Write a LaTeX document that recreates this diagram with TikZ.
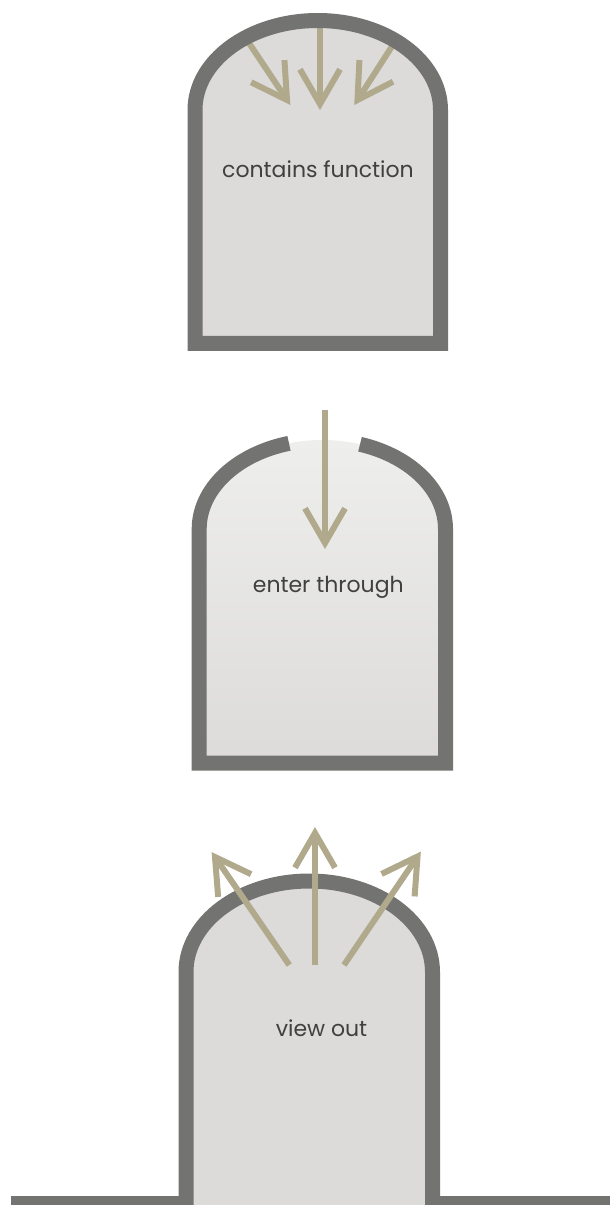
\documentclass[tikz,border=0pt]{standalone}
\usepackage{fontspec}
\setmainfont{Poppins}
\usetikzlibrary{calc}
\definecolor{wallc}{HTML}{737372}
\definecolor{roomc}{HTML}{DCDBDA}
\definecolor{roomtop}{HTML}{EEEEED}
\definecolor{arrowc}{HTML}{B0A98B}
\definecolor{textc}{HTML}{404040}
\tikzset{
  wall/.style={draw=wallc, line width=15pt, line join=miter, line cap=butt},
  room/.style={fill=roomc, draw=none},
  ray/.style={draw=arrowc, line width=6pt, line join=miter, line cap=butt},
  label/.style={text=textc, font=\fontsize{22}{26}\selectfont, anchor=base, inner sep=0pt},
}
\newcommand{\chevray}[2]{%
  \draw[ray] (#1) -- (#2);
  \draw[ray] ($(#2)!40pt!30:(#1)$) -- (#2) -- ($(#2)!40pt!-30:(#1)$);
}
\begin{document}
\begin{tikzpicture}[x=1pt,y=-1pt]
\useasboundingbox (0,0) rectangle (610,1205);
% ---------- room 1: contains function
\coordinate (c1) at (317.75,110);
\fill[room] (195,343.3) -- (195,110) arc[start angle=180,end angle=0,x radius=122.75pt,y radius=89.5pt] -- (440.5,343.3) -- cycle;
\coordinate (a1s) at (245,37);  \coordinate (a1t) at (287,100);
\coordinate (a2s) at (320,18);  \coordinate (a2t) at (320,104);
\coordinate (a3s) at (398,37);  \coordinate (a3t) at (357.5,100);
\chevray{a1s}{a1t}
\chevray{a2s}{a2t}
\chevray{a3s}{a3t}
\draw[wall] (195,343.3) -- (195,110) arc[start angle=180,end angle=0,x radius=122.75pt,y radius=89.5pt] -- (440.5,343.3) -- cycle;
\node[label] (t1) at (318,177) {contains function};
% ---------- room 2: enter through
\coordinate (c2) at (322.3,529);
\shade[top color=roomtop, bottom color=roomc] (199.2,763) -- (199.2,529) arc[start angle=180,end angle=0,x radius=123.1pt,y radius=89pt] -- (445.5,763) -- cycle;
\draw[wall] ($(c2)+(105.7:123.1pt and 89pt)$) arc[start angle=105.7,end angle=180,x radius=123.1pt,y radius=89pt] -- (199.2,763) -- (445.5,763) -- (445.5,529) arc[start angle=0,end angle=72.2,x radius=123.1pt,y radius=89pt];
\coordinate (b1s) at (325,410); \coordinate (b1t) at (325,543);
\chevray{b1s}{b1t}
\node[label] (t2) at (328.3,592.3) {enter through};
% ---------- room 3: view out
\coordinate (c3) at (309.25,972);
\fill[room] (186,1205) -- (186,972) arc[start angle=180,end angle=0,x radius=123.25pt,y radius=91pt] -- (432.5,1205) -- cycle;
\draw[wall] (11,1203.5) -- (186,1203.5) -- (186,972) arc[start angle=180,end angle=0,x radius=123.25pt,y radius=91pt] -- (432.5,1203.5) -- (615,1203.5);
\coordinate (d1s) at (289.3,965); \coordinate (d1t) at (215,857);
\coordinate (d2s) at (315,965);   \coordinate (d2t) at (315,833);
\coordinate (d3s) at (344,965);   \coordinate (d3t) at (417.5,856.5);
\chevray{d1s}{d1t}
\chevray{d2s}{d2t}
\chevray{d3s}{d3t}
\node[label] (t3) at (321.5,1036.7) {view out};
\end{tikzpicture}
\end{document}
